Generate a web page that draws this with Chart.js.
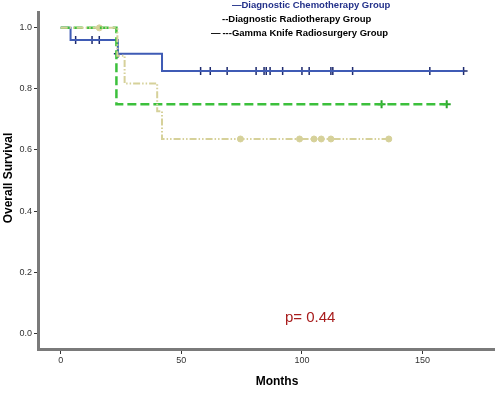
<!DOCTYPE html>
<html lang="en">
<head>
<meta charset="UTF-8">
<title>Overall Survival</title>
<style>
  body { margin: 0; background: #fff; }
</style>
</head>
<body>
<canvas id="kmChart" width="500" height="394"></canvas>
<script src="https://cdn.jsdelivr.net/npm/chart.js"></script>
<script>
    // step curves (month, survival)
    const chemoCurve = [[0, 1], [4.1, 0.96], [23.7, 0.915], [42, 0.859], [167, 0.859]];
    const radioCurve = [[0, 1], [23.1, 0.75], [160, 0.75]];
    const gammaCurve = [[0, 1], [23.5, 0.909], [26.5, 0.818], [40, 0.727], [42, 0.636], [136, 0.636]];

    // censored observations
    const chemoCensored = [[6.2, 0.96], [13, 0.96], [16, 0.96], [23.7, 0.915],
        [58, 0.859], [62, 0.859], [69, 0.859], [81, 0.859], [84.3, 0.859], [85.2, 0.859],
        [86.8, 0.859], [92, 0.859], [100, 0.859], [103, 0.859], [112, 0.859], [112.8, 0.859],
        [121, 0.859], [153, 0.859], [167, 0.859]];
    const radioCensored = [[133, 0.75], [160, 0.75]];
    const gammaCensored = [[16, 1], [74.5, 0.636], [99, 0.636], [105, 0.636], [108, 0.636], [112, 0.636], [136, 0.636]];

    const yTicks = [0, 0.2, 0.4, 0.6, 0.8, 1.0];
    const xTicks = [0, 50, 100, 150];

    const toXY = arr => arr.map(p => ({ x: p[0], y: p[1] }));

    const overlay = {
        id: 'overlay',
        afterDraw(chart) {
            const ctx = chart.ctx;
            ctx.save();
            ctx.textBaseline = 'middle';
            ctx.textAlign = 'left';
            ctx.font = 'bold 9.5px "Liberation Sans", Arial, sans-serif';

            // legend
            ctx.fillStyle = '#23318a';
            ctx.fillText('\u2014Diagnostic Chemotherapy Group', 232, 5);
            ctx.fillStyle = '#000';
            ctx.fillText('--Diagnostic Radiotherapy Group', 222, 19);
            ctx.fillText('\u2014\u2009---Gamma Knife Radiosurgery Group', 211, 33);

            // axis titles
            ctx.textAlign = 'center';
            ctx.font = 'bold 12px "Liberation Sans", Arial, sans-serif';
            ctx.fillText('Months', 277, 382);
            ctx.translate(9, 178);
            ctx.rotate(-Math.PI / 2);
            ctx.fillText('Overall Survival', 0, 0);
            ctx.restore();

            ctx.save();
            ctx.fillStyle = '#a81c1c';
            ctx.font = '15px "Liberation Sans", Arial, sans-serif';
            ctx.textAlign = 'left';
            ctx.textBaseline = 'middle';
            ctx.fillText('p= 0.44', 285, 318);
            ctx.restore();
        }
    };

    new Chart(document.getElementById('kmChart').getContext('2d'), {
        type: 'scatter',
        data: {
            datasets: [
                {
                    label: 'Gamma Knife Radiosurgery Group',
                    data: toXY(gammaCurve),
                    showLine: true,
                    stepped: true,
                    borderColor: '#d6d19a',
                    borderWidth: 2,
                    borderDash: [7, 2, 1.5, 2, 1.5, 2],
                    pointRadius: 0
                },
                {
                    label: 'Diagnostic Radiotherapy Group',
                    data: toXY(radioCurve),
                    showLine: true,
                    stepped: true,
                    borderColor: '#3cc03c',
                    borderWidth: 2.5,
                    borderDash: [9, 4],
                    pointRadius: 0
                },
                {
                    label: 'Diagnostic Chemotherapy Group',
                    data: toXY(chemoCurve),
                    showLine: true,
                    stepped: true,
                    borderColor: '#3f5bb5',
                    borderWidth: 2,
                    pointRadius: 0
                },
                {
                    label: 'gamma censored',
                    data: toXY(gammaCensored),
                    pointStyle: 'circle',
                    pointRadius: 3,
                    backgroundColor: '#d6d19a',
                    borderColor: '#d6d19a',
                    borderWidth: 1
                },
                {
                    label: 'radio censored',
                    data: toXY(radioCensored),
                    pointStyle: 'cross',
                    pointRadius: 4,
                    borderColor: '#2aa52a',
                    borderWidth: 2
                },
                {
                    label: 'chemo censored',
                    data: toXY(chemoCensored),
                    pointStyle: 'cross',
                    pointRadius: 4,
                    borderColor: '#1d2a6e',
                    borderWidth: 1.5
                }
            ]
        },
        options: {
            responsive: false,
            animation: false,
            layout: { padding: { top: 12, right: 2, left: 0, bottom: 0 } },
            plugins: {
                legend: { display: false },
                tooltip: { enabled: false }
            },
            scales: {
                x: {
                    type: 'linear',
                    min: -9.4,
                    max: 179.6,
                    afterFit(scale) { scale.height = 45; },
                    afterBuildTicks(scale) { scale.ticks = xTicks.map(v => ({ value: v })); },
                    border: { color: '#7a7a7a', width: 3 },
                    grid: { drawOnChartArea: false, drawTicks: true, tickLength: 5, color: '#333' },
                    ticks: {
                        color: '#333',
                        padding: 1,
                        maxRotation: 0,
                        font: { size: 9, family: '"Liberation Sans", Arial, sans-serif' },
                        callback: v => String(v)
                    }
                },
                y: {
                    type: 'linear',
                    min: -0.052,
                    max: 1.052,
                    afterFit(scale) { scale.width = 38; },
                    afterBuildTicks(scale) { scale.ticks = yTicks.map(v => ({ value: v })); },
                    border: { color: '#7a7a7a', width: 3 },
                    grid: { drawOnChartArea: false, drawTicks: true, tickLength: 4, color: '#333' },
                    ticks: {
                        color: '#333',
                        padding: 2,
                        font: { size: 9, family: '"Liberation Sans", Arial, sans-serif' },
                        callback: v => Number(v).toFixed(1)
                    }
                }
            }
        },
        plugins: [overlay]
    });
</script>
</body>
</html>
